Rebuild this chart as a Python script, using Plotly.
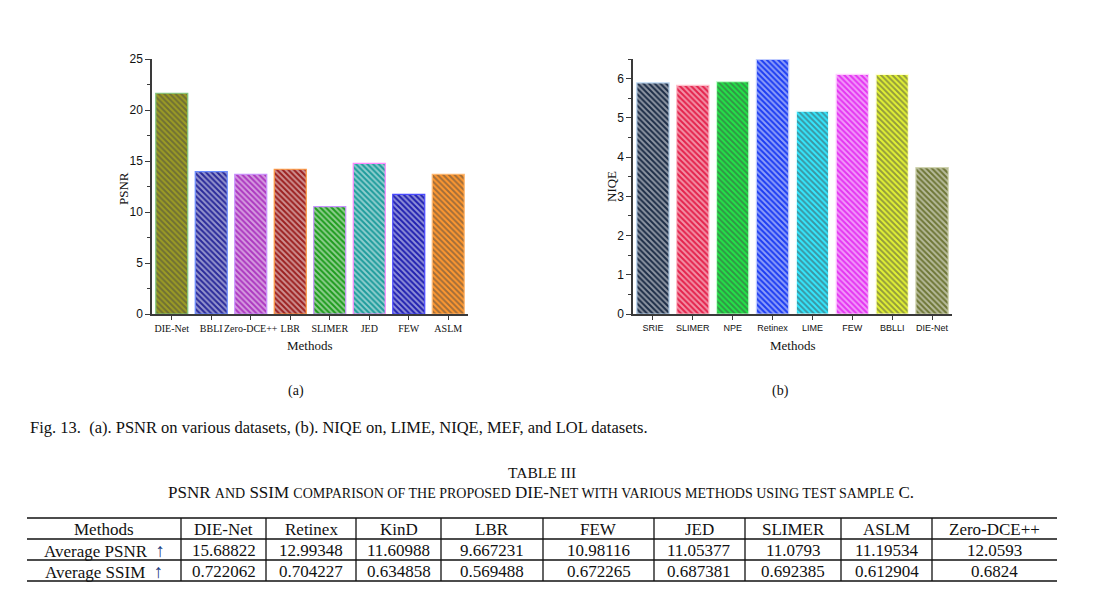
import plotly.graph_objects as go

# ---------------- data ----------------
psnr_methods = ["DIE-Net", "BBLI", "Zero-DCE++", "LBR", "SLIMER", "JED", "FEW", "ASLM"]
psnr_values = [21.64, 13.95, 13.70, 14.19, 10.52, 14.77, 11.73, 13.70]

niqe_methods = ["SRIE", "SLIMER", "NPE", "Retinex", "LIME", "FEW", "BBLLI", "DIE-Net"]
niqe_values = [5.89, 5.83, 5.92, 6.49, 5.17, 6.11, 6.11, 3.73]

table_methods = ["DIE-Net", "Retinex", "KinD", "LBR", "FEW", "JED", "SLIMER", "ASLM", "Zero-DCE++"]
table_psnr = [15.68822, 12.99348, 11.60988, 9.667231, 10.98116, 11.05377, 11.0793, 11.19534, 12.0593]
table_ssim = [0.722062, 0.704227, 0.634858, 0.569488, 0.672265, 0.687381, 0.692385, 0.612904, 0.6824]

# ---------------- styles ----------------
psnr_fill = ["#9c9c24", "#2a2a9a", "#ac38c0", "#9c2020", "#1e9c1e", "#1e9c9c", "#2020b0", "#ff9830"]
psnr_line = ["#80c880", "#6a8cff", "#c890ff", "#ff9a40", "#c890ff", "#ff88ff", "#4a4aff", "#ffb870"]
niqe_fill = ["#1c2c46", "#e4224c", "#22e448", "#1c3cf2", "#34e8ff", "#e434f2", "#e2f234", "#6e7636"]
niqe_fg = ["#9cc0e8", "#ffb0c0", "#c0ffc8", "#a8b8ff", "#d8fcff", "#ffc8ff", "#fcffc8", "#c8cca0"]
niqe_line = ["#b8d4f0", "#ffc0cc", "#c8ffd0", "#c0ccff", "#e0ffff", "#ffd0ff", "#ffffd8", "#d0d4b0"]

W, H = 1114, 611
SERIF = "Liberation Serif"
SANS = "Liberation Sans"
AX = "#3a3a3a"


def px(x):
    return x / W


def py(y):
    return (H - y) / H


fig = go.Figure()

fig.add_trace(go.Bar(
    x=psnr_methods, y=psnr_values, xaxis="x", yaxis="y",
    marker=dict(color=psnr_fill, line=dict(color=psnr_line, width=1.2),
                pattern=dict(shape="\\", fillmode="overlay",
                             fgcolor="#ffffff", size=4, solidity=0.5)),
    showlegend=False,
))
fig.add_trace(go.Bar(
    x=niqe_methods, y=niqe_values, xaxis="x2", yaxis="y2",
    marker=dict(color=niqe_fill, line=dict(color=niqe_line, width=1.2),
                pattern=dict(shape="\\", fillmode="overlay",
                             fgcolor=niqe_fg, size=4, solidity=0.5)),
    showlegend=False,
))

common_x = dict(showline=True, linecolor=AX, linewidth=1.5, ticks="outside", ticklen=4,
                tickwidth=1.2, tickcolor=AX, showgrid=False, zeroline=False,
                tickangle=0, automargin=False)
common_y = dict(showline=True, linecolor=AX, linewidth=1.5, ticks="outside", ticklen=5,
                tickwidth=1.2, tickcolor=AX, showgrid=False, zeroline=False, automargin=False,
                tickfont=dict(family=SANS, size=12, color="#111"))

fig.update_layout(
    width=W, height=H, margin=dict(l=0, r=0, t=0, b=0),
    paper_bgcolor="white", plot_bgcolor="white",
    bargap=0.19,
    xaxis=dict(domain=[px(152), px(468)], anchor="y",
               tickfont=dict(family=SERIF, size=10, color="#111"), **common_x),
    yaxis=dict(domain=[py(314), py(59)], anchor="x", range=[0, 25], dtick=5,
               minor=dict(ticks="outside", ticklen=3, dtick=2.5, tickcolor=AX, tickwidth=1),
               **common_y),
    xaxis2=dict(domain=[px(633), px(952)], anchor="y2",
                tickfont=dict(family=SANS, size=9, color="#111"), **common_x),
    yaxis2=dict(domain=[py(314), py(59)], anchor="x2", range=[0, 6.5], dtick=1,
                minor=dict(ticks="outside", ticklen=3, dtick=0.5, tickcolor=AX, tickwidth=1),
                **common_y),
)

ann = []


def text(x, y, s, size=14, family=SERIF, angle=0, xanchor="center", color="#111"):
    ann.append(dict(x=px(x), y=py(y), xref="paper", yref="paper", text=s, showarrow=False,
                    xanchor=xanchor, yanchor="middle", textangle=angle,
                    font=dict(family=family, size=size, color=color)))


# axis titles and sub-figure labels
text(310, 345, "Methods", 13)
text(123, 189, "PSNR", 13, angle=-90)
text(793, 345, "Methods", 13)
text(611, 187, "NIQE", 13, angle=-90)
text(296, 391, "(a)", 14)
text(780, 391, "(b)", 14)
text(28, 427, "Fig. 13.&nbsp;&nbsp;(a). PSNR on various datasets, (b). NIQE on, LIME, NIQE, MEF, and LOL datasets.",
     16.5, xanchor="left")

# table caption
sc = "<span style='font-size:14px'>%s</span>"
text(542, 472, "TABLE III", 15.5)
text(541, 492, "PSNR " + sc % "AND" + " SSIM " + sc % "COMPARISON OF THE PROPOSED" + " DIE-N"
     + sc % "ET WITH VARIOUS METHODS USING TEST SAMPLE" + " C.", 17)

# table layout
col_edges = [27, 181, 266, 356, 441, 543, 654, 745, 841, 932, 1057]
row_edges = [518, 539, 560, 581]
shapes = []
for y in row_edges:
    shapes.append(dict(type="line", xref="paper", yref="paper", x0=px(col_edges[0]), x1=px(col_edges[-1]),
                       y0=py(y), y1=py(y), line=dict(color="#111", width=1.3)))
for x in col_edges[1:-1]:
    shapes.append(dict(type="line", xref="paper", yref="paper", x0=px(x), x1=px(x),
                       y0=py(row_edges[0]), y1=py(row_edges[-1]), line=dict(color="#111", width=1.3)))

arrow = "&nbsp;&nbsp;<span style='color:#1c3c80;font-size:19px'>↑</span>"
rows = [["Methods"] + table_methods,
        ["Average PSNR" + arrow] + [str(v) for v in table_psnr],
        ["Average SSIM" + arrow] + [str(v) for v in table_ssim]]
for r, row in enumerate(rows):
    yc = (row_edges[r] + row_edges[r + 1]) / 2 + 0.5
    for c, cell in enumerate(row):
        xc = (col_edges[c] + col_edges[c + 1]) / 2
        text(xc, yc, cell, 17)

fig.update_layout(annotations=ann, shapes=shapes)
fig.write_html("out.html")
